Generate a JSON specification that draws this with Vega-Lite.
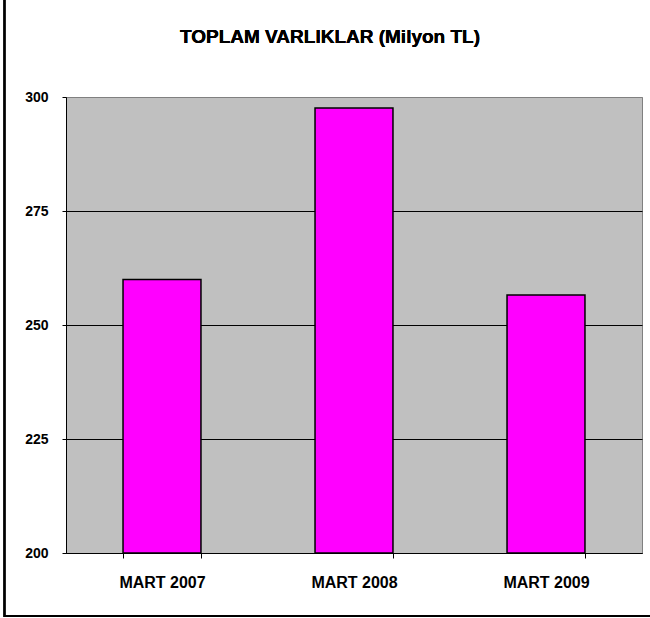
{
  "$schema": "https://vega.github.io/schema/vega-lite/v6.json",
  "autosize": "none",
  "width": 576,
  "height": 456,
  "padding": {"left": 66, "top": 97, "right": 8, "bottom": 65},
  "background": "white",
  "data": {
    "values": [
      {"donem": "MART 2007", "varlik": 260.0},
      {"donem": "MART 2008", "varlik": 297.6},
      {"donem": "MART 2009", "varlik": 256.6}
    ]
  },
  "layer": [
    {
      "mark": {"type": "bar", "fill": "#FF00FF", "stroke": "#000000", "strokeWidth": 1.5},
      "encoding": {
        "x": {
          "field": "donem",
          "type": "nominal",
          "sort": null,
          "scale": {"paddingInner": 0.594, "paddingOuter": 0.297},
          "axis": {
            "title": null,
            "labelAngle": 0,
            "tickBand": "extent",
            "tickSize": 5,
            "tickColor": "#000000",
            "domainColor": "#000000",
            "labelFont": "Liberation Sans, Arial, sans-serif",
            "labelFontSize": 16,
            "labelFontWeight": "bold",
            "labelColor": "#000000",
            "labelPadding": 16
          }
        },
        "y": {
          "field": "varlik",
          "type": "quantitative",
          "scale": {"domain": [200, 300], "zero": false, "nice": false},
          "axis": {
            "title": null,
            "values": [200, 225, 250, 275, 300],
            "tickSize": 4,
            "tickColor": "#000000",
            "domainColor": "#000000",
            "labelFont": "Liberation Sans, Arial, sans-serif",
            "labelFontSize": 14,
            "labelFontWeight": "bold",
            "labelColor": "#000000",
            "labelPadding": 14,
            "grid": true,
            "gridColor": {"condition": {"test": "datum.value == 300", "value": "#808080"}, "value": "#000000"},
            "gridOpacity": 1,
            "gridWidth": 1
          }
        },
        "y2": {"datum": 200}
      }
    },
    {
      "mark": {"type": "rect", "fill": null, "filled": false, "stroke": "#000000", "strokeWidth": 2, "clip": false},
      "encoding": {
        "x": {"datum": -0.1068, "type": "quantitative", "scale": {"domain": [0, 1], "nice": false, "zero": false}, "axis": null},
        "x2": {"datum": 1.4},
        "y": {"datum": 186.2, "type": "quantitative", "scale": {"domain": [200, 300], "zero": false, "nice": false}},
        "y2": {"datum": 340}
      }
    },
    {
      "mark": {
        "type": "text",
        "text": "TOPLAM VARLIKLAR (Milyon TL)",
        "font": "Liberation Sans, Arial, sans-serif",
        "fontSize": 19,
        "fontWeight": "bold",
        "color": "#000000",
        "align": "center",
        "baseline": "alphabetic",
        "clip": false
      },
      "encoding": {
        "x": {"datum": 0.4583, "type": "quantitative", "scale": {"domain": [0, 1], "nice": false, "zero": false}, "axis": null},
        "y": {"datum": 311.8, "type": "quantitative", "scale": {"domain": [200, 300], "zero": false, "nice": false}}
      }
    }
  ],
  "resolve": {"scale": {"x": "independent"}, "axis": {"x": "independent"}},
  "config": {
    "view": {"fill": "#C0C0C0", "stroke": "#808080", "strokeWidth": 1}
  }
}
